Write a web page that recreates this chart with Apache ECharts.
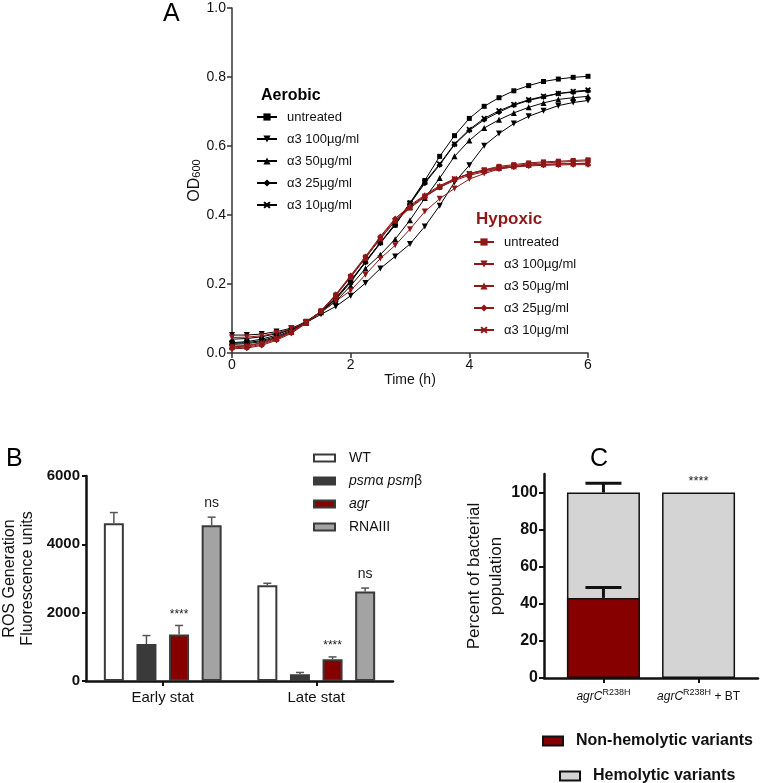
<!DOCTYPE html>
<html><head><meta charset="utf-8">
<script src="https://cdn.jsdelivr.net/npm/echarts@6/dist/echarts.min.js"></script>
<style>html,body{margin:0;padding:0;background:#fff}#c{width:762px;height:783px}</style>
</head><body><div id="c"></div>
<script>
// ---------- Panel A data ----------
const timeH = [0,0.25,0.5,0.75,1,1.25,1.5,1.75,2,2.25,2.5,2.75,3,3.25,3.5,3.75,4,4.25,4.5,4.75,5,5.25,5.5,5.75,6];
const aerUntreated = [0.030,0.033,0.040,0.052,0.070,0.092,0.120,0.155,0.205,0.265,0.320,0.370,0.435,0.500,0.570,0.630,0.680,0.715,0.740,0.760,0.775,0.787,0.794,0.799,0.802];
const aer100 = [0.052,0.052,0.055,0.062,0.072,0.088,0.112,0.135,0.166,0.203,0.245,0.280,0.316,0.367,0.427,0.495,0.544,0.601,0.636,0.665,0.686,0.702,0.717,0.726,0.732];
const aer50 = [0.040,0.042,0.047,0.056,0.068,0.088,0.118,0.150,0.195,0.245,0.285,0.330,0.385,0.449,0.507,0.570,0.616,0.652,0.676,0.696,0.712,0.725,0.735,0.740,0.744];
const aer25 = [0.025,0.027,0.033,0.045,0.063,0.088,0.118,0.158,0.208,0.262,0.318,0.372,0.432,0.492,0.545,0.604,0.645,0.676,0.698,0.718,0.732,0.742,0.752,0.756,0.760];
const aer10 = [0.028,0.030,0.036,0.048,0.066,0.090,0.120,0.160,0.210,0.265,0.320,0.375,0.435,0.495,0.548,0.606,0.648,0.680,0.702,0.720,0.734,0.744,0.752,0.758,0.762];
const hypUntreated = [0.015,0.017,0.025,0.040,0.060,0.088,0.122,0.168,0.222,0.278,0.332,0.382,0.420,0.452,0.480,0.503,0.520,0.531,0.541,0.546,0.551,0.554,0.556,0.558,0.560];
const hyp100 = [0.045,0.046,0.050,0.058,0.070,0.090,0.118,0.150,0.181,0.227,0.274,0.312,0.359,0.410,0.447,0.477,0.504,0.520,0.533,0.540,0.544,0.546,0.548,0.549,0.550];
const hyp50 = [0.020,0.022,0.030,0.044,0.062,0.088,0.122,0.168,0.220,0.275,0.335,0.388,0.428,0.458,0.485,0.505,0.518,0.528,0.536,0.541,0.545,0.547,0.548,0.549,0.550];
const hyp25 = [0.012,0.014,0.022,0.037,0.057,0.086,0.122,0.170,0.225,0.280,0.338,0.390,0.425,0.455,0.480,0.500,0.515,0.525,0.534,0.539,0.542,0.544,0.545,0.546,0.546];
const hyp10 = [0.018,0.020,0.028,0.042,0.060,0.088,0.121,0.166,0.220,0.276,0.330,0.384,0.422,0.455,0.482,0.505,0.520,0.530,0.538,0.543,0.548,0.551,0.553,0.555,0.557];
const legendLabelsA = ['untreated','\u03b13 100\u00b5g/ml','\u03b13 50\u00b5g/ml','\u03b13 25\u00b5g/ml','\u03b13 10\u00b5g/ml'];

// ---------- Panel B data ----------
const catsB = ['Early stat','Late stat'];
const namesB = ['WT','psm\u03b1 psm\u03b2','agr','RNAIII'];
const wtB = [4620, 2800];     const wtErrB = [310, 60];
const psmB = [1080, 200];     const psmErrB = [250, 50];
const agrB = [1360, 640];     const agrErrB = [265, 65];
const rnaB = [4560, 2620];    const rnaErrB = [235, 100];
const annotAgrB = ['****','****'];
const annotRnaB = ['ns','ns'];

// ---------- Panel C data ----------
const catsC = ['{i|agrC}{s|R238H}', '{i|agrC}{s|R238H}{n| + BT}'];
const xPosC = [0.625, 1.625];
const nonHemoC = [43.2, 0];
const hemoC = [56.8, 100];
const nonHemoErrC = [5.6, 0];
const totalErrC = [5.0, 0];
const annotC = ['', '****'];
const yTicksC = [0, 20, 40, 60, 80, 100];

const FONT = '"Liberation Sans", Arial, Helvetica, sans-serif';
const BLACK = '#000000';
const RED = '#8e1717';
const INK = '#111111';

const sym = {
  rect: 'rect',
  down: 'path://M0,0L10,0L5,9Z',
  up: 'triangle',
  diamond: 'diamond',
  cross: 'path://M0,2L2,0L5,3L8,0L10,2L7,5L10,8L8,10L5,7L2,10L0,8L3,5Z'
};

const defsA = [
  ['Aerobic', 0, aerUntreated, sym.rect, 5, BLACK],
  ['Aerobic', 1, aer100, sym.down, 6, BLACK],
  ['Aerobic', 2, aer50, sym.up, 6, BLACK],
  ['Aerobic', 3, aer25, sym.diamond, 6, BLACK],
  ['Aerobic', 4, aer10, sym.cross, 6, BLACK],
  ['Hypoxic', 0, hypUntreated, sym.rect, 5, RED],
  ['Hypoxic', 1, hyp100, sym.down, 6, RED],
  ['Hypoxic', 2, hyp50, sym.up, 6, RED],
  ['Hypoxic', 3, hyp25, sym.diamond, 6, RED],
  ['Hypoxic', 4, hyp10, sym.cross, 6, RED]
];
const seriesA = defsA.map(d => ({
  name: d[0] + ' ' + legendLabelsA[d[1]],
  type: 'line', xAxisIndex: 0, yAxisIndex: 0,
  data: timeH.map((t, i) => [t, d[2][i]]),
  symbol: d[3], symbolSize: d[4], showSymbol: true,
  lineStyle: { color: d[5], width: 1 },
  itemStyle: { color: d[5] },
  emphasis: { disabled: true },
  animation: false
}));

// ---------- Panel B series ----------
const barW = 20, gapRatio = 0.63;
const barStyles = [
  { color: '#ffffff', borderColor: '#3a3a3a', borderWidth: 2 },
  { color: '#3a3a3a', borderColor: '#3a3a3a', borderWidth: 2 },
  { color: '#870000', borderColor: '#3a3a3a', borderWidth: 2 },
  { color: '#a3a3a3', borderColor: '#3a3a3a', borderWidth: 2 }
];
const valsB = [wtB, psmB, agrB, rnaB];
const errsB = [wtErrB, psmErrB, agrErrB, rnaErrB];
const annB = [['',''], ['',''], annotAgrB, annotRnaB];
const seriesB = [];
valsB.forEach((vals, k) => {
  seriesB.push({
    name: namesB[k], type: 'bar', xAxisIndex: 1, yAxisIndex: 1,
    data: vals, barWidth: barW, barGap: (gapRatio * 100) + '%',
    itemStyle: barStyles[k], emphasis: { disabled: true }, animation: false
  });
});
valsB.forEach((vals, k) => {
  seriesB.push({
    type: 'custom', xAxisIndex: 1, yAxisIndex: 1, silent: true, animation: false, z: 5,
    data: vals.map((v, i) => [i, v, errsB[k][i]]),
    renderItem: (params, api) => {
      const c = api.value(0), v = api.value(1), e = api.value(2);
      const off = (k - 1.5) * (barW * (1 + gapRatio));
      const p0 = api.coord([c, v]), p1 = api.coord([c, v + e]);
      const x = p0[0] + off;
      const st = { stroke: '#555555', lineWidth: 1.5 };
      const ch = [
        { type: 'line', shape: { x1: x, y1: p0[1], x2: x, y2: p1[1] }, style: st },
        { type: 'line', shape: { x1: x - 4, y1: p1[1], x2: x + 4, y2: p1[1] }, style: st }
      ];
      const t = annB[k][params.dataIndex];
      if (t) {
        const ast = t.indexOf('*') >= 0;
        ch.push({ type: 'text', style: { text: t, x: x, y: p1[1] - (ast ? 5 : 7), textAlign: 'center', textVerticalAlign: 'bottom',
          font: (ast ? '12px ' : '14px ') + FONT, fill: '#222' } });
      }
      return { type: 'group', children: ch };
    }
  });
});

// ---------- Panel C series ----------
// the grey (hemolytic) bar spans the whole stack; the red part is drawn over its lower portion
const seriesC = [
  { name: 'Hemolytic variants', type: 'bar', xAxisIndex: 2, yAxisIndex: 2, barWidth: 73, barGap: '-100%',
    data: hemoC.map((v, i) => [xPosC[i], nonHemoC[i] + v]),
    itemStyle: { color: '#d4d4d4', borderColor: '#111', borderWidth: 1.5 }, emphasis: { disabled: true }, animation: false },
  { name: 'Non-hemolytic variants', type: 'bar', xAxisIndex: 2, yAxisIndex: 2, barWidth: 73, barGap: '-100%',
    data: nonHemoC.map((v, i) => [xPosC[i], v]),
    itemStyle: { color: '#870000', borderColor: '#111', borderWidth: 1.5 }, emphasis: { disabled: true }, animation: false },
  { type: 'custom', xAxisIndex: 2, yAxisIndex: 2, silent: true, animation: false, z: 5,
    data: xPosC.map((x, i) => [x, nonHemoC[i], nonHemoErrC[i], nonHemoC[i] + hemoC[i], totalErrC[i]]),
    renderItem: (params, api) => {
      const x = api.value(0);
      const ch = [];
      const st = { stroke: '#111', lineWidth: 3 };
      [[api.value(1), api.value(2)], [api.value(3), api.value(4)]].forEach(([top, e]) => {
        if (e > 0) {
          const p0 = api.coord([x, top]), p1 = api.coord([x, top + e]);
          ch.push({ type: 'line', shape: { x1: p0[0], y1: p0[1], x2: p0[0], y2: p1[1] }, style: st });
          ch.push({ type: 'line', shape: { x1: p0[0] - 18, y1: p1[1], x2: p0[0] + 18, y2: p1[1] }, style: st });
        }
      });
      const t = annotC[params.dataIndex];
      if (t) {
        const p = api.coord([x, api.value(3) + api.value(4)]);
        ch.push({ type: 'text', style: { text: t, x: p[0], y: p[1] - 5, textAlign: 'center', textVerticalAlign: 'bottom',
          font: '13px ' + FONT, fill: '#222' } });
      }
      return { type: 'group', children: ch };
    }
  }
];

const chart = echarts.init(document.getElementById('c'), null, { renderer: 'canvas' });
const legendFmtA = n => n.replace(/^(Aerobic|Hypoxic) /, '');
chart.setOption({
  backgroundColor: '#ffffff',
  textStyle: { fontFamily: FONT },
  animation: false,
  title: [
    { text: 'A', left: 163, top: 2, padding: 0, textStyle: { fontSize: 25, fontWeight: 'normal', color: '#000', fontFamily: FONT } },
    { text: 'B', left: 6, top: 447, padding: 0, textStyle: { fontSize: 25, fontWeight: 'normal', color: '#000', fontFamily: FONT } },
    { text: 'C', left: 590, top: 447, padding: 0, textStyle: { fontSize: 25, fontWeight: 'normal', color: '#000', fontFamily: FONT } },
    { text: 'Aerobic', left: 261, top: 88, padding: 0, textStyle: { fontSize: 16, fontWeight: 'bold', color: '#000', fontFamily: FONT } },
    { text: 'Hypoxic', left: 476, top: 211, padding: 0, textStyle: { fontSize: 17, fontWeight: 'bold', color: RED, fontFamily: FONT } }
  ],
  legend: [
    { data: seriesA.slice(0, 5).map(s => s.name), left: 256, top: 110, orient: 'vertical', padding: 0,
      itemWidth: 20, itemHeight: 9, itemGap: 8, formatter: legendFmtA, selectedMode: false,
      textStyle: { fontSize: 13, color: '#111', lineHeight: 14, padding: [0, 0, 0, 5], fontFamily: FONT } },
    { data: seriesA.slice(5).map(s => s.name), left: 473, top: 235, orient: 'vertical', padding: 0,
      itemWidth: 20, itemHeight: 9, itemGap: 8, formatter: legendFmtA, selectedMode: false,
      textStyle: { fontSize: 13, color: '#111', lineHeight: 14, padding: [0, 0, 0, 5], fontFamily: FONT } },
    { data: namesB, left: 313, top: 450, orient: 'vertical', padding: 0, icon: 'rect',
      itemWidth: 21, itemHeight: 7, itemGap: 7, selectedMode: false,
      formatter: n => n === namesB[1] ? '{i|psm}\u03b1 {i|psm}\u03b2' : (n === 'agr' ? '{i|agr}' : n),
      textStyle: { fontSize: 14, color: '#111', lineHeight: 16, padding: [0, 0, 0, 9], fontFamily: FONT,
        rich: { i: { fontStyle: 'italic', fontSize: 14, fontFamily: FONT, color: '#111' } } } },
    { data: ['Non-hemolytic variants'], left: 542, top: 733, orient: 'vertical', padding: 0, icon: 'rect',
      itemWidth: 20, itemHeight: 9, selectedMode: false,
      textStyle: { fontSize: 16, fontWeight: 'bold', color: '#111', padding: [0, 0, 0, 8], fontFamily: FONT } },
    { data: ['Hemolytic variants'], left: 559, top: 768, orient: 'vertical', padding: 0, icon: 'rect',
      itemWidth: 20, itemHeight: 9, selectedMode: false,
      textStyle: { fontSize: 16, fontWeight: 'bold', color: '#111', padding: [0, 0, 0, 8], fontFamily: FONT } }
  ],
  grid: [
    { left: 232, top: 8, width: 356, height: 345 },
    { left: 83, top: 476, width: 310, height: 205 },
    { left: 544, top: 474, width: 214, height: 204 }
  ],
  xAxis: [
    { type: 'value', gridIndex: 0, min: 0, max: 6, interval: 2,
      axisLine: { show: true, lineStyle: { color: '#333', width: 1.5 } },
      axisTick: { show: true, length: 5, lineStyle: { color: '#333', width: 1.5 } },
      axisLabel: { fontSize: 14, color: '#111', margin: 5 },
      splitLine: { show: false },
      name: 'Time (h)', nameLocation: 'middle', nameGap: 20,
      nameTextStyle: { fontSize: 14, color: '#111', fontFamily: FONT } },
    { type: 'category', gridIndex: 1, data: catsB,
      axisLine: { show: true, lineStyle: { color: INK, width: 2.5 } },
      axisTick: { show: true, alignWithLabel: true, length: 5, lineStyle: { color: INK, width: 2 } },
      axisLabel: { fontSize: 15, color: '#111', margin: 9 } },
    { type: 'value', gridIndex: 2, min: 0, max: 2.25,
      axisLine: { show: true, lineStyle: { color: INK, width: 2.5 } },
      axisTick: { show: true, customValues: xPosC, length: 5, lineStyle: { color: INK, width: 2 } },
      axisLabel: { customValues: xPosC, margin: 10, formatter: v => catsC[v < 1 ? 0 : 1],
        rich: { i: { fontStyle: 'italic', fontSize: 12, color: '#111', fontFamily: FONT, verticalAlign: 'bottom' },
                s: { fontSize: 9, color: '#111', fontFamily: FONT, verticalAlign: 'top', padding: [0, 0, 6, 0] },
                n: { fontSize: 12, color: '#111', fontFamily: FONT, verticalAlign: 'bottom' } } },
      splitLine: { show: false } }
  ],
  yAxis: [
    { type: 'value', gridIndex: 0, min: 0, max: 1, interval: 0.2,
      axisLine: { show: true, lineStyle: { color: '#333', width: 1.5 } },
      axisTick: { show: true, length: 5, lineStyle: { color: '#333', width: 1.5 } },
      axisLabel: { fontSize: 14, color: '#111', margin: 6, formatter: v => v.toFixed(1) },
      splitLine: { show: false },
      name: '{a|OD}{b|600}', nameLocation: 'middle', nameGap: 28,
      nameTextStyle: { rich: { a: { fontSize: 16, color: '#111', fontFamily: FONT, verticalAlign: 'bottom' },
                               b: { fontSize: 11, color: '#111', fontFamily: FONT, verticalAlign: 'bottom' } } } },
    { type: 'value', gridIndex: 1, min: 0, max: 6000, interval: 2000,
      axisLine: { show: true, lineStyle: { color: INK, width: 2.5 } },
      axisTick: { show: true, length: 4, lineStyle: { color: INK, width: 2 } },
      axisLabel: { fontSize: 15, fontWeight: 'bold', color: '#111', margin: 6, formatter: v => String(v) },
      splitLine: { show: false },
      name: 'ROS Generation\nFluorescence units', nameLocation: 'middle', nameGap: 49,
      nameTextStyle: { fontSize: 16, lineHeight: 18, color: '#111', fontFamily: FONT } },
    { type: 'value', gridIndex: 2, min: 0, max: 110,
      axisLine: { show: true, lineStyle: { color: INK, width: 2.5 } },
      axisTick: { show: true, customValues: yTicksC, length: 5, lineStyle: { color: INK, width: 2 } },
      axisLabel: { customValues: yTicksC, fontSize: 16, fontWeight: 'bold', color: '#111', margin: 6 },
      splitLine: { show: false },
      name: 'Percent of bacterial\npopulation', nameLocation: 'middle', nameGap: 23,
      nameTextStyle: { fontSize: 17, lineHeight: 22, color: '#111', fontFamily: FONT } }
  ],
  series: [...seriesA, ...seriesB, ...seriesC]
});
</script>
</body></html>
